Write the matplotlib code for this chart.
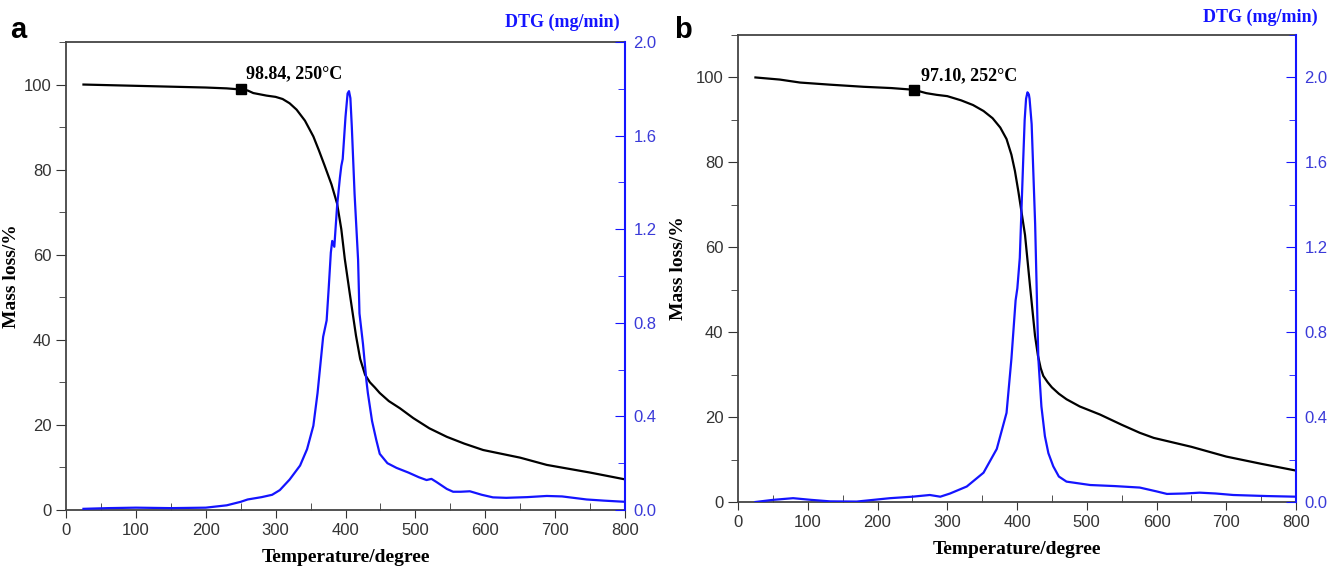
import numpy as np
import matplotlib.pyplot as plt
from matplotlib.ticker import MultipleLocator

# panel a
tg_a_T = [25, 100, 150, 200, 230, 250, 260, 268, 287, 300, 310, 320, 330, 342, 354, 362,
          370, 380, 388, 394, 399, 406, 415, 421, 428, 435, 442, 449, 462, 478, 497, 520,
          545, 570, 597, 650, 688, 750, 800]
tg_a = [100, 99.7, 99.5, 99.3, 99.1, 98.84, 98.6, 98.0, 97.4, 97.1, 96.6, 95.6, 94.1,
        91.5, 87.8, 84.5, 81, 76.5, 72, 66, 59, 51, 41, 35.5, 31.8, 30, 28.8, 27.5, 25.6,
        23.9, 21.6, 19.2, 17.2, 15.6, 14.1, 12.3, 10.6, 8.8, 7.2]
dtg_a_T = [25, 60, 100, 150, 200, 230, 250, 260, 280, 295, 306, 320, 335, 345, 354, 360,
           365, 368, 373, 376, 379, 381, 384, 388, 392, 394, 396, 400, 403, 405, 407, 409,
           413, 418, 420, 425, 430, 432, 438, 444, 449, 460, 473, 490, 505, 516, 523, 530,
           545, 554, 565, 578, 595, 611, 630, 660, 688, 710, 745, 770, 800]
dtg_a = [0.005, 0.008, 0.01, 0.008, 0.01, 0.02, 0.035, 0.045, 0.055, 0.065, 0.085, 0.13,
         0.19, 0.26, 0.36, 0.5, 0.65, 0.74, 0.81, 0.95, 1.1, 1.15, 1.125, 1.3, 1.42, 1.47,
         1.5, 1.68, 1.78, 1.79, 1.76, 1.64, 1.35, 1.07, 0.84, 0.71, 0.55, 0.5, 0.38, 0.3,
         0.24, 0.2, 0.18, 0.16, 0.14, 0.128, 0.133, 0.12, 0.09, 0.078, 0.078, 0.08, 0.065,
         0.054, 0.052, 0.055, 0.06, 0.058, 0.045, 0.04, 0.035]
mark_a = (250, 98.84)
label_a = '98.84, 250°C'

# panel b
tg_b_T = [25, 60, 89, 132, 180, 220, 252, 270, 285, 300, 320, 337, 352, 365, 376, 385,
          392, 397, 402, 411.5, 418.6, 425.8, 430, 434, 437.7, 444, 450, 460, 471, 490,
          519, 550, 576, 596, 650, 700, 750, 800]
tg_b = [100, 99.5, 98.8, 98.3, 97.8, 97.5, 97.10, 96.3, 95.9, 95.6, 94.6, 93.5, 92.1, 90.4,
        88.2, 85.5, 81.8, 78, 73.1, 62.9, 51, 39.2, 34.5, 31.5, 29.7, 28.2, 27, 25.5, 24.2,
        22.5, 20.6, 18.2, 16.3, 15.1, 13, 10.7, 9, 7.4]
dtg_b_T = [25, 50, 79, 105, 132, 170, 218, 250, 275, 290, 304, 328, 352, 371, 385, 392,
           398, 400.5, 404, 409, 411, 413, 415, 417, 418, 421, 426, 430.6, 435, 440, 445,
           452, 460, 471, 505, 540, 576, 600, 615, 640, 662, 685, 710, 758, 800]
dtg_b = [0.0, 0.01, 0.018, 0.01, 0.003, 0.002, 0.018, 0.025, 0.033, 0.025, 0.04, 0.073,
         0.138, 0.25, 0.42, 0.675, 0.95, 1.007, 1.15, 1.62, 1.8, 1.9, 1.93, 1.92, 1.9,
         1.78, 1.31, 0.675, 0.45, 0.31, 0.23, 0.168, 0.12, 0.096, 0.08, 0.075, 0.068, 0.05,
         0.038, 0.04, 0.044, 0.04, 0.033, 0.028, 0.025]
mark_b = (252, 97.10)
label_b = '97.10, 252°C'

BLUE = '#1414ff'
SERIF = 'Liberation Serif'
SANS = 'Liberation Sans'

plt.rcParams['font.family'] = SANS

fig = plt.figure(figsize=(13.28, 5.75), dpi=100)


def panel(rect, T, tg, dT, dtg, mark, label, dtg_top, letter, letter_xy, label_xy,
          dtg_title_xy, ylab_x):
    ax = fig.add_axes(rect)
    ax.plot(T, tg, color='black', lw=1.6)
    ax.plot(*mark, marker='s', color='black', ms=7)
    ax.text(label_xy[0], label_xy[1], label, fontfamily=SERIF, fontweight='bold',
            fontsize=13, ha='left', va='bottom')
    ax.set_xlim(0, 800)
    ax.set_ylim(0, 110)
    ax.xaxis.set_major_locator(MultipleLocator(100))
    ax.xaxis.set_minor_locator(MultipleLocator(50))
    ax.yaxis.set_major_locator(MultipleLocator(20))
    ax.yaxis.set_minor_locator(MultipleLocator(10))
    ax.tick_params(axis='x', which='major', direction='out', length=6, labelsize=12,
                   colors='#333333')
    ax.tick_params(axis='x', which='minor', direction='in', length=5, colors='#333333')
    ax.tick_params(axis='y', which='both', direction='out', labelsize=12, colors='#333333')
    ax.tick_params(axis='y', which='major', length=7)
    ax.tick_params(axis='y', which='minor', length=5)
    for s in ['left', 'bottom', 'top']:
        ax.spines[s].set_color('#444444')
        ax.spines[s].set_linewidth(1.3)
    ax.spines['right'].set_visible(False)
    ax.set_xlabel('Temperature/degree', fontfamily=SERIF, fontweight='bold', fontsize=14,
                  labelpad=8)
    ax.set_ylabel('Mass loss/%', fontfamily=SERIF, fontweight='bold', fontsize=14)
    ax.yaxis.set_label_coords(ylab_x, 0.5)

    ax2 = ax.twinx()
    ax2.plot(dT, dtg, color=BLUE, lw=1.6)
    ax2.set_ylim(0, dtg_top)
    ax2.yaxis.set_major_locator(MultipleLocator(0.4))
    ax2.yaxis.set_minor_locator(MultipleLocator(0.2))
    ax2.yaxis.set_major_formatter(plt.FormatStrFormatter('%.1f'))
    ax2.tick_params(axis='y', which='both', direction='in', colors=BLUE, labelsize=12,
                    labelcolor='#3a3ad8', pad=6)
    ax2.tick_params(axis='y', which='major', length=7)
    ax2.tick_params(axis='y', which='minor', length=5)
    ax2.spines['right'].set_color(BLUE)
    ax2.spines['right'].set_linewidth(1.5)
    for s in ['left', 'bottom', 'top']:
        ax2.spines[s].set_visible(False)
    fig.text(dtg_title_xy[0], dtg_title_xy[1], 'DTG (mg/min)', color=BLUE,
             fontfamily=SERIF, fontweight='bold', fontsize=13, ha='right', va='center')
    fig.text(letter_xy[0], letter_xy[1], letter, fontfamily=SANS, fontweight='bold',
             fontsize=21, ha='left', va='center')
    return ax


panel([66 / 1328, 65 / 575, 559 / 1328, 468 / 575], tg_a_T, tg_a, dtg_a_T, dtg_a,
      mark_a, label_a, 2.0, 'a', (10 / 1328, 1 - 30 / 575), (258, 100.5),
      (620 / 1328, 1 - 22 / 575), -0.082)
panel([738 / 1328, 73 / 575, 558 / 1328, 467 / 575], tg_b_T, tg_b, dtg_b_T, dtg_b,
      mark_b, label_b, 2.2, 'b', (674 / 1328, 1 - 30 / 575), (262, 98.5),
      (1318 / 1328, 1 - 17 / 575), -0.091)

fig.savefig('out.png', dpi=100)
